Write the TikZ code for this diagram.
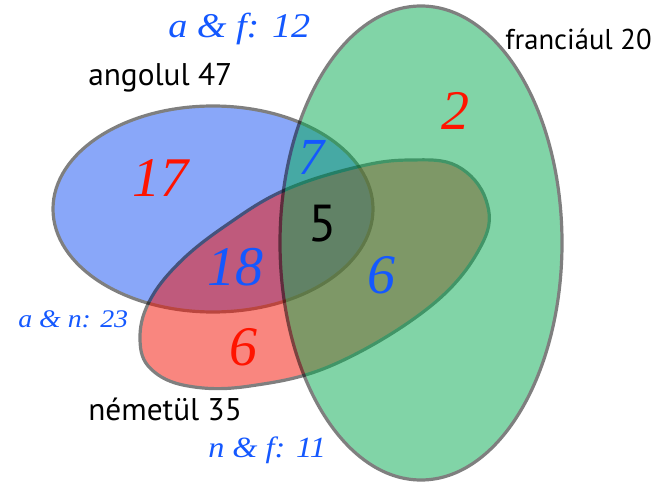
\documentclass[tikz,border=0pt]{standalone}
\usepackage{fontspec}
\setmainfont{Liberation Serif}
\newfontfamily\labelfont{PT Sans}
\newfontfamily\pairfont[FakeStretch=1.1]{Liberation Serif}
\newfontfamily\bigfont{Liberation Serif}
\definecolor{blueset}{RGB}{21,81,245}
\definecolor{redset}{RGB}{245,15,0}
\definecolor{greenset}{RGB}{5,171,81}
\definecolor{txtblue}{RGB}{20,88,255}
\definecolor{txtred}{RGB}{255,20,0}
\tikzset{
  setline/.style={draw=black, line width=2.4pt},
  lab/.style={inner sep=0pt, anchor=base west, font=\labelfont\fontsize{23.5}{27}\selectfont},
  pairlab/.style={inner sep=0pt, anchor=base west, text=txtblue},
  bignum/.style={inner sep=0pt, anchor=base, font=\bigfont\itshape\fontsize{42}{46}\selectfont},
}
\begin{document}
\begin{tikzpicture}[x=0.75pt,y=-0.75pt]
\useasboundingbox (0,0) rectangle (659,484);
\fill[white] (0,0) rectangle (659,484);
% angolul (blue)
\begin{scope}[transparency group, opacity=0.5]
\draw[setline, fill=blueset] (213,209) ellipse [x radius=160, y radius=103];
\end{scope}
% nemetul (red)
\begin{scope}[transparency group, opacity=0.5]
\draw[setline, fill=redset] plot[smooth cycle, tension=0.65] coordinates {
 (140,340) (149,302) (180,262) (228,224) (285,190) (357,167) (410,160)
 (457,166) (486,200) (482,244) (432,305) (335,364) (250,386) (188,386) (151,369)};
\end{scope}
% franciaul (green)
\begin{scope}[transparency group, opacity=0.5]
\draw[setline, fill=greenset] (421,243) ellipse [x radius=141, y radius=237];
\end{scope}
% labels
\node[lab] (ang) at (88,86) {angolul 47};
\node[lab, anchor=base east, font=\labelfont\fontsize{21.5}{25}\selectfont] (fr) at (652,50) {franciául 20};
\node[lab] (nem) at (88,420) {németül 35};
\node[pairlab, font=\pairfont\itshape\fontsize{26}{30}\selectfont] (af) at (168,38) {a \& f: 12};
\node[pairlab, font=\pairfont\itshape\fontsize{19}{22}\selectfont] (an) at (18,327) {a \& n: 23};
\node[pairlab, font=\pairfont\itshape\fontsize{22}{26}\selectfont] (nf) at (208,457) {n \& f: 11};
% region counts
\node[bignum, text=txtred] (n17) at (160,197) {17};
\node[bignum, text=txtblue, font=\bigfont\itshape\fontsize{39}{44}\selectfont] (n7) at (311,175) {7};
\node[inner sep=0pt, anchor=base, font=\labelfont\fontsize{39}{43}\selectfont] (n5) at (323,242) {5};
\node[bignum, text=txtblue] (n18) at (235,285) {18};
\node[bignum, text=txtred] (n6a) at (243,365) {6};
\node[bignum, text=txtblue] (n6b) at (381,293) {6};
\node[bignum, text=txtred] (n2) at (455,130) {2};
\end{tikzpicture}
\end{document}
